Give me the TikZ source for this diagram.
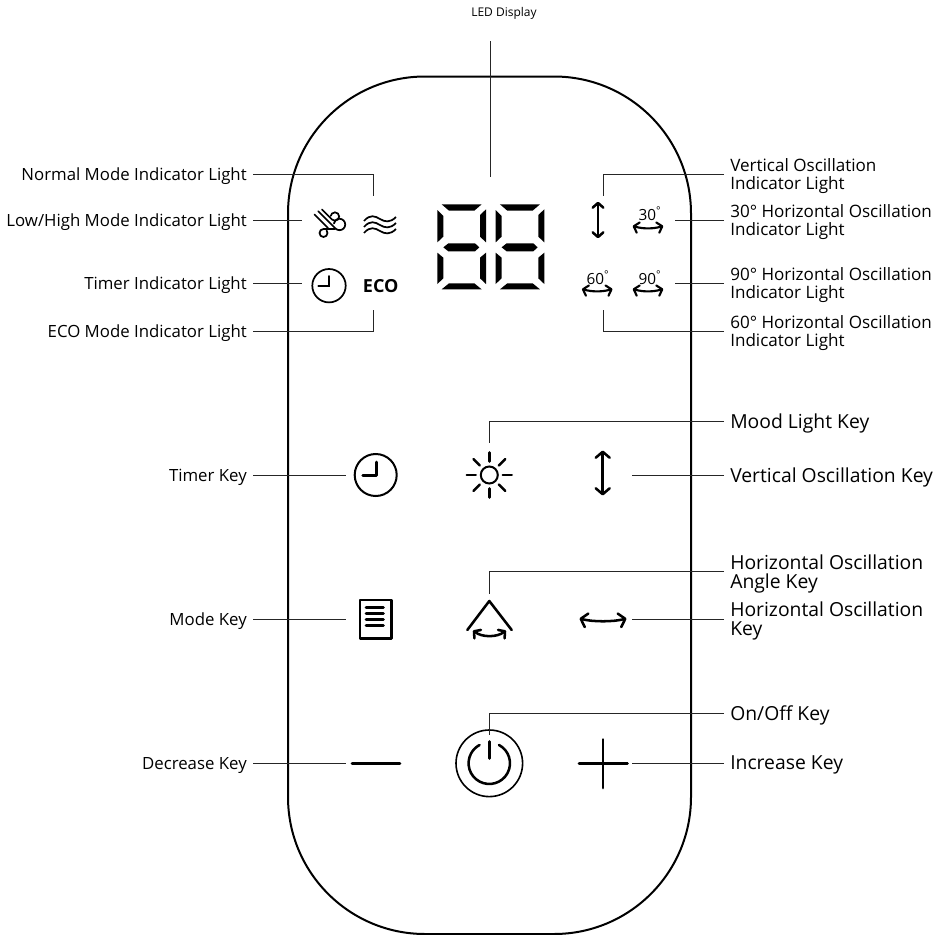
\documentclass[tikz,border=0pt]{standalone}
\usepackage{fontspec}
\setmainfont{Open Sans}
\usetikzlibrary{arrows.meta, positioning}
\tikzset{
  panel/.style={draw=black, line width=1.5pt, rounded corners=102.75pt},
  leader/.style={draw=black!85, line width=0.75pt},
  iconline/.style={draw=black, line width=1.9pt, line cap=round, line join=round},
  iconthin/.style={draw=black, line width=1.3pt},
  barbs/.style={{Straight Barb[round, length=4.5pt, width=10.5pt]}-{Straight Barb[round, length=4.5pt, width=10.5pt]}},
  smallbarbs/.style={{Straight Barb[round, length=3.5pt, width=8pt]}-{Straight Barb[round, length=3.5pt, width=8pt]}},
  lblleft/.style={anchor=east, inner xsep=4.5pt, inner ysep=0pt, text depth=0pt, font=\fontsize{12.6}{15}\selectfont},
  lblupper/.style={anchor=west, inner xsep=4.5pt, inner ysep=0pt, text depth=0pt, align=left, font=\fontsize{12.8}{13.5}\selectfont},
  lbllower/.style={anchor=west, inner xsep=4.5pt, inner ysep=0pt, text depth=0pt, align=left, font=\fontsize{14.5}{14.25}\selectfont},
  lbltop/.style={inner sep=0pt, minimum height=42pt, font=\fontsize{9}{12}\selectfont},
  lblangle/.style={inner sep=0pt, font=\fontsize{11.5}{12}\selectfont},
  pics/leddigit/.style={code={
    \begin{scope}[x=0.25pt, y=-0.25pt]
    \fill (35,43) -- (155,43) -- (133,62) -- (57,62) -- cycle;
    \fill (22,60) -- (40,78) -- (40,140) -- (22,157) -- cycle;
    \fill (168,58) -- (150,75) -- (150,140) -- (168,157) -- cycle;
    \fill (40,172) -- (55,160) -- (135,160) -- (148,172) -- (135,184) -- (55,184) -- cycle;
    \fill (22,188) -- (40,203) -- (40,265) -- (22,282) -- cycle;
    \fill (168,188) -- (150,203) -- (150,265) -- (168,282) -- cycle;
    \fill (35,298) -- (57,280) -- (133,280) -- (155,298) -- cycle;
    \end{scope}
  }},
  pics/swingarrow/.style={code={
    \draw[iconline, line width=1.6pt, smallbarbs] (-15.3,0) .. controls (-5,3) and (5,3) .. (15.3,0);
  }},
  pics/waveline/.style={code={
    \draw[iconthin] (-16,2) .. controls (-10,-5) and (-5,-3) .. (0,0) .. controls (5,3) and (10,4) .. (16,-2);
  }}
}

\begin{document}
\begin{tikzpicture}[x=0.75pt, y=-0.75pt]
  \useasboundingbox (0,0) rectangle (943,935);

  % ===== Panel =====
  \draw[panel] (288,76.5) rectangle (691,934);

  % ===== LED display =====
  \pic (digita) at (430,190) {leddigit};
  \pic (digitb) at (488.3,190) {leddigit};

  % ===== Indicator icons, left =====
  % wind
  \draw[iconthin, line cap=round] (322,209.5) -- (332,219.5) arc (135:-170:4.2);
  \draw[iconthin, line cap=round] (318.3,211.3) -- (335.5,228.5) arc (135:-170:5.7);
  \draw[iconthin, line cap=round] (314.5,214.5) -- (328,228);
  \draw[iconthin, line cap=round] (335,229) -- (323.5,229) arc (-90:-400:4);
  % waves
  \pic (wavea) at (380,219) {waveline};
  \pic (waveb) at (380,225) {waveline};
  \pic (wavec) at (380,231) {waveline};
  % timer
  \draw[iconthin] (329,285.7) circle (16.7);
  \draw[iconthin, line cap=round] (329,276) -- (329,286) -- (318.3,286);
  % eco
  \node[inner sep=0pt, font=\fontsize{13.5}{14}\selectfont\bfseries] (eco) at (380.7,286.5) {ECO};

  % ===== Indicator icons, right =====
  \draw[iconline, smallbarbs] (598,201.7) -- (598,238.3);
  \pic (swinga) at (648,226) {swingarrow};
  \pic (swingb) at (597.2,289) {swingarrow};
  \pic (swingc) at (648,289) {swingarrow};
  \node[lblangle] (angle30) at (650,214) {30\textsuperscript{°}};
  \node[lblangle] (angle60) at (598,277.7) {60\textsuperscript{°}};
  \node[lblangle] (angle90) at (650,277.7) {90\textsuperscript{°}};

  % ===== Keys, first row =====
  % timer key
  \draw[iconthin, line width=1.5pt] (375.7,475) circle (21);
  \draw[iconline] (376.7,462) -- (376.7,475.7) -- (362.7,475.7);
  % mood light key
  \draw[iconthin, line width=1.5pt] (489.3,475) circle (8.5);
  \draw[iconline] (489.3,452.5) -- (489.3,461.5);
  \draw[iconline] (489.3,488.5) -- (489.3,497.5);
  \draw[iconline] (466.8,475) -- (475.8,475);
  \draw[iconline] (502.8,475) -- (511.8,475);
  \draw[iconline] (473.4,459.1) -- (479.8,465.5);
  \draw[iconline] (498.8,484.5) -- (505.2,490.9);
  \draw[iconline] (473.4,490.9) -- (479.8,484.5);
  \draw[iconline] (498.8,465.5) -- (505.2,459.1);
  % vertical oscillation key
  \draw[iconline, barbs] (602.7,450.5) -- (602.7,495.5);

  % ===== Keys, second row =====
  % mode key
  \draw[iconline] (360,600) rectangle (391.7,638.7);
  \draw[iconline] (366,607.3) -- (383.5,607.3);
  \draw[iconline] (366,613.3) -- (383.5,613.3);
  \draw[iconline] (366,619.3) -- (383.5,619.3);
  \draw[iconline] (366,625.3) -- (383.5,625.3);
  % horizontal oscillation angle key
  \draw[iconline] (467.3,630) -- (489.3,601) -- (511.7,630);
  \draw[iconline, smallbarbs] (473,630.5) .. controls (482,637.5) and (497,637.5) .. (506,630.5);
  % horizontal oscillation key
  \draw[iconline, barbs] (579.5,618.5) .. controls (593,622) and (613,622) .. (626.5,618.5);

  % ===== Keys, third row =====
  % decrease key
  \draw[iconline, line width=2.2pt] (352,763.3) -- (400,763.3);
  % on/off key
  \draw[iconthin, line width=1.2pt] (489.3,763.3) circle (33.3);
  \draw[iconline] (499,745) arc (-62:242:20.7);
  \draw[iconline] (489.3,741.5) -- (489.3,758.5);
  % increase key
  \draw[iconline, line width=2.2pt] (579,763.3) -- (627.5,763.3);
  \draw[iconline, line width=2.2pt] (603,739.5) -- (603,788);

  % ===== Labels, left =====
  \node[lblleft] (lnormal) at (253,174) {Normal Mode Indicator Light};
  \node[lblleft] (llow) at (253,220) {Low/High Mode Indicator Light};
  \node[lblleft] (ltimer) at (253,283) {Timer Indicator Light};
  \node[lblleft] (leco) at (253,331) {ECO Mode Indicator Light};
  \node[lblleft] (ltimerkey) at (253,475) {Timer Key};
  \node[lblleft] (lmode) at (253,619) {Mode Key};
  \node[lblleft] (ldec) at (253,763) {Decrease Key};

  % ===== Labels, right =====
  \node[lbltop] (lled) at (504,13) {LED Display};
  \node[lblupper] (lvertlight) at (724,174) {Vertical Oscillation\\Indicator Light};
  \node[lblupper] (l30) at (724,220) {30° Horizontal Oscillation\\Indicator Light};
  \node[lblupper] (l90) at (724,283) {90° Horizontal Oscillation\\Indicator Light};
  \node[lblupper] (l60) at (724,331) {60° Horizontal Oscillation\\Indicator Light};
  \node[lbllower] (lmood) at (724,421) {Mood Light Key};
  \node[lbllower] (lvert) at (724,475) {Vertical Oscillation Key};
  \node[lbllower] (lhangle) at (724,571.5) {Horizontal Oscillation\\Angle Key};
  \node[lbllower] (lhoriz) at (724,619) {Horizontal Oscillation\\Key};
  \node[lbllower] (lonoff) at (724,713) {On/Off Key};
  \node[lbllower] (linc) at (724,763) {Increase Key};

  % ===== Leader ends =====
  \coordinate (eled) at (490,177);
  \coordinate (enormal) at (373.5,196);
  \coordinate (elow) at (302,220);
  \coordinate (etimer) at (302,283);
  \coordinate (eeco) at (373.5,310);
  \coordinate (etimerkey) at (346,475);
  \coordinate (emode) at (346,619);
  \coordinate (edec) at (346,763);
  \coordinate (evertlight) at (603,196);
  \coordinate (e30) at (675,220);
  \coordinate (e90) at (675,283);
  \coordinate (e60) at (603,310);
  \coordinate (emood) at (489,443);
  \coordinate (evert) at (632,475);
  \coordinate (ehangle) at (489,594);
  \coordinate (ehoriz) at (632,619);
  \coordinate (eonoff) at (489,735);
  \coordinate (einc) at (632,763);

  % ===== Leaders =====
  \draw[leader] (lled.south -| eled) -- (eled);
  \draw[leader] (lnormal.east) -| (enormal);
  \draw[leader] (llow.east) -- (elow);
  \draw[leader] (ltimer.east) -- (etimer);
  \draw[leader] (leco.east) -| (eeco);
  \draw[leader] (ltimerkey.east) -- (etimerkey);
  \draw[leader] (lmode.east) -- (emode);
  \draw[leader] (ldec.east) -- (edec);
  \draw[leader] (lvertlight.west) -| (evertlight);
  \draw[leader] (l30.west) -- (e30);
  \draw[leader] (l90.west) -- (e90);
  \draw[leader] (l60.west) -| (e60);
  \draw[leader] (lmood.west) -| (emood);
  \draw[leader] (lvert.west) -- (evert);
  \draw[leader] (lhangle.west) -| (ehangle);
  \draw[leader] (lhoriz.west) -- (ehoriz);
  \draw[leader] (lonoff.west) -| (eonoff);
  \draw[leader] (linc.west) -- (einc);
\end{tikzpicture}
\end{document}
